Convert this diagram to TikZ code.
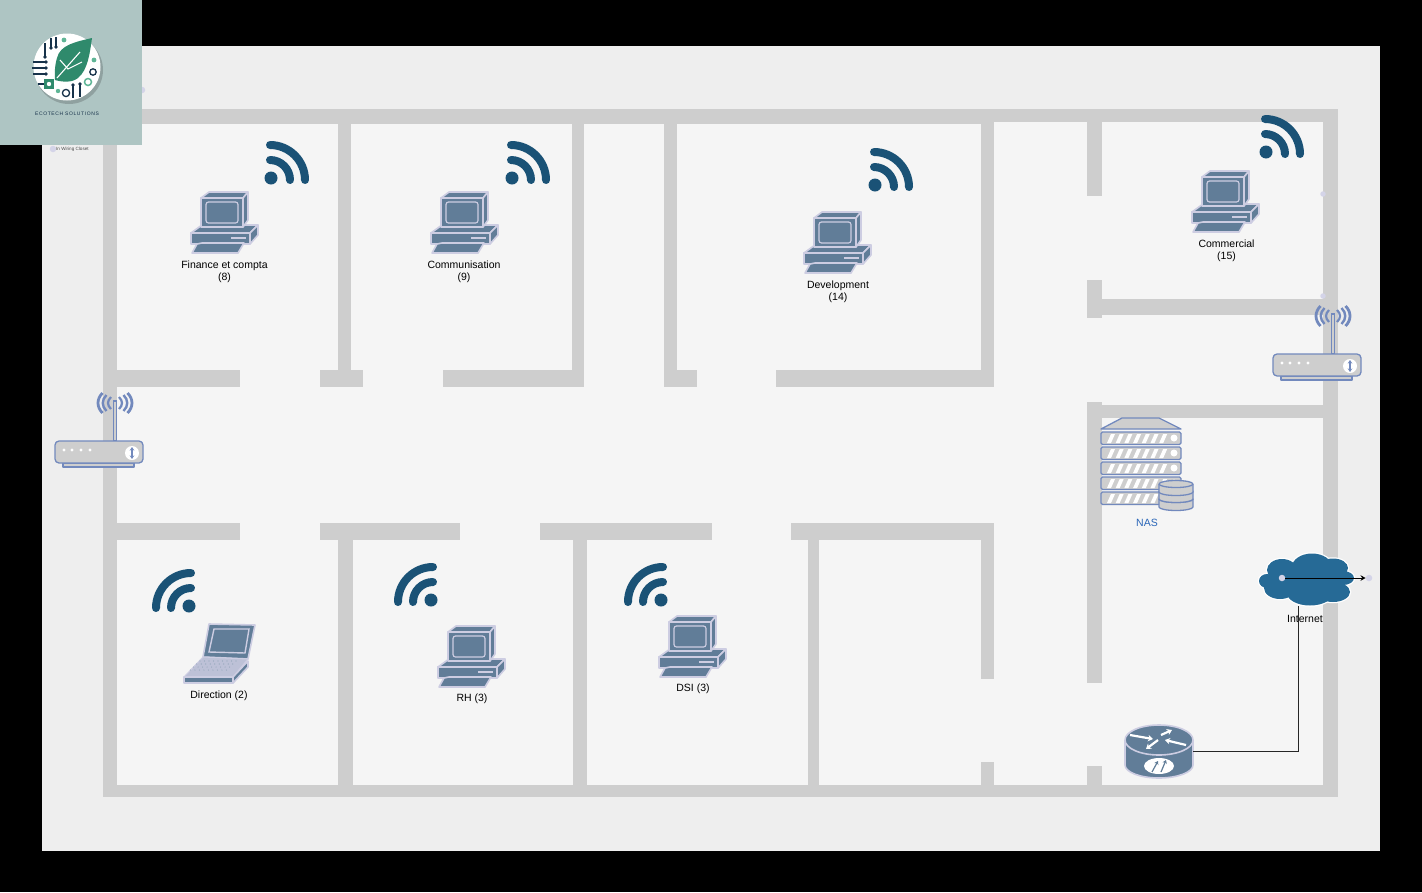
\documentclass[tikz,border=0pt]{standalone}
\usepackage{fontspec}
\setmainfont{Liberation Sans}
\newfontfamily\logofont[LetterSpace=12]{Liberation Sans}
\usetikzlibrary{arrows.meta}
\definecolor{outerbg}{HTML}{EEEEEE}
\definecolor{floorbg}{HTML}{F5F5F5}
\definecolor{wallgrey}{HTML}{CECECE}
\definecolor{wifiblue}{HTML}{1A5276}
\definecolor{pcfill}{HTML}{617D98}
\definecolor{pcline}{HTML}{CDCDE2}
\definecolor{netline}{HTML}{7289BD}
\definecolor{cloudblue}{HTML}{266A96}
\definecolor{handle}{HTML}{D4D4E8}
\definecolor{logobg}{HTML}{AEC5C3}
\definecolor{leafgreen}{HTML}{2F8A6C}
\definecolor{logoteal}{HTML}{5FB596}
\definecolor{logodark}{HTML}{17324A}
\definecolor{naslabel}{HTML}{2A66B8}
\newcommand{\wallrect}[4]{\fill[wallgrey] (#1,#2) rectangle (#3,#4);}
\tikzset{
  x=1pt,y=-1pt,
  lbl/.style={font=\fontsize{10.5}{12}\selectfont,align=center,text=black,inner sep=0pt},
  pcpart/.style={fill=pcfill,draw=pcline,line width=1.6pt,line join=round},
  netpart/.style={fill=wallgrey,draw=netline,line width=1.3pt,line join=round},
  handledot/.style={circle,fill=handle,inner sep=0pt,minimum size=6.5pt},
  rsswave/.style={draw=wifiblue,line width=8pt,line cap=round},
  pcicon/.pic={
    \path[pcpart] (0,43)--(6,53)--(47,53)--(53,43)--cycle;
    \path[pcpart] (0,43)--(11,35)--(67,35)--(59,43)--cycle;
    \path[pcpart] (59,43)--(67,35)--(67,45)--(59,54)--cycle;
    \path[pcpart] (0,43) rectangle (59,54);
    \path[pcpart] (10,8)--(18,2)--(57,2)--(52,8)--cycle;
    \path[pcpart] (52,8)--(57,2)--(57,30)--(52,37)--cycle;
    \path[pcpart] (10,8) rectangle (52,37);
    \draw[draw=pcline,line width=1.2pt,rounded corners=2.5pt] (15,12) rectangle (47,33);
    \fill[pcline] (40,47) rectangle (55,49);
    \path[pcpart] (6,54)--(11,53)--(53,53)--(47,63)--(1,63)--cycle;
  },
  laptopicon/.pic={
    \path[pcpart] (19,33)--(25,0)--(71,1)--(64,35)--cycle;
    \draw[draw=pcline,line width=1.4pt] (25,28)--(30,5)--(65,5)--(61,29)--cycle;
    \path[fill=pcline!85!pcfill,draw=pcline,line width=1pt,line join=round] (19,33)--(64,35)--(49,53)--(0,53)--cycle;
    \foreach \r in {0,1,2,3} \foreach \c in {0,...,8}
      \fill[pcfill!70!white] ({16+\c*4.5-\r*3.2},{37+\r*3}) circle[radius=.6];
    \path[pcpart] (49,53)--(64,37)--(64,43)--(49,59)--cycle;
    \path[pcpart] (0,53) rectangle (49,59);
  },
  rssicon/.pic={
    \fill[wifiblue] (0,0) circle[radius=6.5];
    \draw[rsswave] (-1,-18) arc[start angle=270,end angle=360,radius=20];
    \draw[rsswave] (-1,-33) arc[start angle=270,end angle=360,radius=35];
  },
  wifileft/.pic={
    \fill[wifiblue] (0,0) circle[radius=6.5];
    \draw[rsswave] (-18,2) arc[start angle=180,end angle=270,radius=20];
    \draw[rsswave] (-33,2) arc[start angle=180,end angle=270,radius=35];
  },
  apicon/.pic={
    \draw[netline,line width=1.1pt,fill=wallgrey] (-1.6,-40) rectangle (1.6,0);
    \foreach \s in {-1,1}{
      \draw[netline,line width=2.2pt] ({\s*4},-44)..controls ({\s*8},-40) and ({\s*8},-36)..({\s*4},-32);
      \draw[netline,line width=2.4pt] ({\s*8.5},-46)..controls ({\s*13.5},-41) and ({\s*13.5},-35)..({\s*8.5},-30);
      \draw[netline,line width=2.8pt] ({\s*12.5},-48)..controls ({\s*18.5},-42) and ({\s*18.5},-34)..({\s*12.5},-28);
    }
    \path[netpart] (-52,22) rectangle (19,26);
    \path[netpart,rounded corners=4pt] (-60,0) rectangle (28,22);
    \foreach \d in {-51,-43,-34,-25} \fill[white] (\d,9) circle[radius=1.7];
    \fill[white] (17,12) circle[radius=7];
    \draw[netline,line width=1.2pt,{Stealth[length=3.5pt,width=4.5pt]}-{Stealth[length=3.5pt,width=4.5pt]}] (17,6)--(17,18);
  },
  nasunit/.pic={
    \path[netpart,rounded corners=1.5pt] (0,0) rectangle (80,12.5);
    \foreach \i in {0,...,6} \fill[white] ({6+\i*8.7},11) -- ({10+\i*8.7},2) -- ({14+\i*8.7},2) -- ({10+\i*8.7},11) -- cycle;
    \fill[white] (73,6) circle[radius=3.5];
  },
  cylslice/.pic={
    \path[netpart] (-17,0) -- (-17,8) arc[start angle=180,end angle=0,x radius=17,y radius=3.5] -- (17,0);
    \path[netpart] (0,0) ellipse[x radius=17,y radius=3.5];
  },
}
\begin{document}
\begin{tikzpicture}
\useasboundingbox (0,0) rectangle (1422,892);
\fill[black] (0,0) rectangle (1422,892);
\fill[outerbg] (42,46) rectangle (1380,851);
\fill[floorbg] (103,109) rectangle (1338,797);
% outer walls
\wallrect{103}{109}{1338}{122}
\wallrect{117}{122}{994}{124}
\wallrect{103}{109}{117}{797}
\wallrect{1323}{109}{1338}{797}
\wallrect{103}{785}{1338}{797}
% upper room walls
\wallrect{338}{124}{351}{370}
\wallrect{572}{124}{584}{387}
\wallrect{664}{124}{677}{387}
\wallrect{981}{124}{994}{387}
\wallrect{117}{370}{240}{387}
\wallrect{320}{370}{363}{387}
\wallrect{443}{370}{584}{387}
\wallrect{664}{370}{697}{387}
\wallrect{776}{370}{994}{387}
% right rooms
\wallrect{1087}{121}{1102}{196}
\wallrect{1087}{280}{1102}{318}
\wallrect{1102}{299}{1323}{315}
\wallrect{1087}{402}{1102}{683}
\wallrect{1102}{405}{1323}{418}
\wallrect{1087}{766}{1102}{785}
% lower rooms
\wallrect{117}{523}{240}{540}
\wallrect{320}{523}{460}{540}
\wallrect{540}{523}{712}{540}
\wallrect{791}{523}{994}{540}
\wallrect{338}{540}{353}{785}
\wallrect{573}{540}{587}{785}
\wallrect{808}{540}{819}{785}
\wallrect{981}{540}{994}{679}
\wallrect{981}{762}{994}{785}
% wifi symbols
\pic at (271,178) {rssicon};
\pic at (512,178) {rssicon};
\pic at (875,185) {rssicon};
\pic at (1266,152) {rssicon};
\pic at (189,606) {wifileft};
\pic at (431,600) {wifileft};
\pic at (661,600) {wifileft};
% workstations
\pic at (191,190) {pcicon};
\pic at (431,190) {pcicon};
\pic at (804,210) {pcicon};
\pic at (1192,169) {pcicon};
\pic at (438,624) {pcicon};
\pic at (659,614) {pcicon};
\pic at (184,624) {laptopicon};
\node[lbl] (finance) at (224.5,271.5) {Finance et compta\\(8)};
\node[lbl] (comm) at (464,271.5) {Communisation\\(9)};
\node[lbl] (dev) at (838,291.5) {Development\\(14)};
\node[lbl] (commercial) at (1226.5,250.5) {Commercial\\(15)};
\node[lbl] (direction) at (219,695.5) {Direction (2)};
\node[lbl] (rh) at (472,698.5) {RH (3)};
\node[lbl] (dsi) at (693,688.5) {DSI (3)};
% access points
\pic at (115,441) {apicon};
\pic at (1333,354) {apicon};
% NAS
\path[netpart] (1101,429)--(1122,418)--(1159,418)--(1181,429)--cycle;
\foreach \yy in {432,447,462,477,492} \pic at (1101,\yy) {nasunit};
\pic at (1176,499) {cylslice};
\pic at (1176,491) {cylslice};
\pic at (1176,484) {cylslice};
\node[lbl,text=naslabel] (nas) at (1147,523) {NAS};
% cloud
\foreach \cx/\cy/\rx/\ry in {1282/570/15/11,1312/567/20/13.5,1333/568/15/9.5,1343/578/11/7,1267/581/8/7,1280/588/16/11,1310/593/23/12.5,1333/592/17/10}
  \draw[white,line width=2.5pt,fill=white] (\cx,\cy) ellipse[x radius=\rx,y radius=\ry];
\foreach \cx/\cy/\rx/\ry in {1282/570/15/11,1312/567/20/13.5,1333/568/15/9.5,1343/578/11/7,1267/581/8/7,1280/588/16/11,1310/593/23/12.5,1333/592/17/10}
  \fill[cloudblue] (\cx,\cy) ellipse[x radius=\rx,y radius=\ry];
\fill[cloudblue] (1270,570) rectangle (1340,595);
\node[lbl] (internet) at (1305,619) {Internet};
% edge router
\path[pcpart] (1125,740) -- (1125,765) arc[start angle=180,end angle=0,x radius=34,y radius=13] -- (1193,740);
\path[pcpart] (1159,740) ellipse[x radius=34,y radius=15];
\fill[white] (1159,766) ellipse[x radius=15,y radius=8];
\begin{scope}[white,line width=2.2pt,-{Stealth[length=5pt,width=6.5pt]}]
\draw (1130,735)--(1153,739);
\draw (1186,745)--(1165,740);
\draw (1158,740)--(1146,749);
\draw (1161,735)--(1172,730);
\end{scope}
\begin{scope}[pcfill,line width=1.2pt,-{Stealth[length=3.5pt,width=4.5pt]}]
\draw (1152,772)--(1158,761);
\draw (1161,772)--(1166,760);
\end{scope}
% handles and connectors
\node[handledot] (h1) at (142,90) {};
\node[handledot] (h2) at (53,149) {};
\node[handledot,minimum size=5.5pt] (h3) at (1323,194) {};
\node[handledot,minimum size=5.5pt] (h4) at (1323,296) {};
\node[handledot] (h5) at (1282,578) {};
\node[handledot] (h6) at (1369,578) {};
\coordinate (wanE) at (1193,751);
\coordinate (cloudS) at (1298,606);
\draw[black!85,line width=1pt] (wanE) -| (cloudS);
\draw[black,line width=.9pt,-{Stealth[length=5pt,width=5.5pt]}] (h5) -- (h6);
\node[font=\fontsize{4.6}{5}\selectfont,text=black!70,inner sep=0pt,anchor=west] (closet) at (56,149) {In Wiring Closet};
% logo
\fill[logobg] (0,0) rectangle (142,145);
\fill[logobg!82!black] (69,70) circle[radius=34];
\fill[white] (67,67) circle[radius=33.5];
\fill[leafgreen] (92,38) .. controls (75,42) and (60,45) .. (57,58) .. controls (54,68) and (55,76) .. (55,80) .. controls (62,82) and (72,83) .. (78,78) .. controls (88,70) and (90,52) .. (92,38) -- cycle;
\begin{scope}[white,line width=1.1pt]
\draw (80,52)--(57,78);
\draw (60,60)--(68,69)--(82,62);
\end{scope}
\begin{scope}[logodark,line width=1.3pt]
\draw (45,43)--(45,58); \fill (45,57) circle[radius=1.8];
\draw (51,38)--(51,49); \fill (51,48) circle[radius=1.8];
\draw (56,37)--(56,47); \fill (56,47) circle[radius=1.8];
\draw (33,62)--(46,62); \fill (46,62) circle[radius=1.8];
\draw (32,68)--(46,68); \fill (46,68) circle[radius=1.8];
\draw (33,74)--(46,74); \fill (46,74) circle[radius=1.8];
\draw (73,85)--(73,98); \fill (73,85) circle[radius=1.8];
\draw (80,83)--(80,97); \fill (80,84) circle[radius=1.8];
\draw (66,93) circle[radius=3.6];
\draw (93,72) circle[radius=3.2];
\draw (38,84)--(54,84);
\end{scope}
\draw[logoteal,line width=1.5pt] (88,82) circle[radius=3.5];
\fill[leafgreen] (44,79) rectangle (54,89);
\fill[white] (49,84) circle[radius=2.2];
\fill[logoteal] (58,91) circle[radius=2.2];
\fill[logoteal] (64,40) circle[radius=2.4];
\fill[logoteal] (94,60) circle[radius=2.4];
\node[font=\logofont\fontsize{5}{6}\selectfont,text=logodark,inner sep=0pt] (logotext) at (67,114) {ECOTECH SOLUTIONS};
\end{tikzpicture}
\end{document}
